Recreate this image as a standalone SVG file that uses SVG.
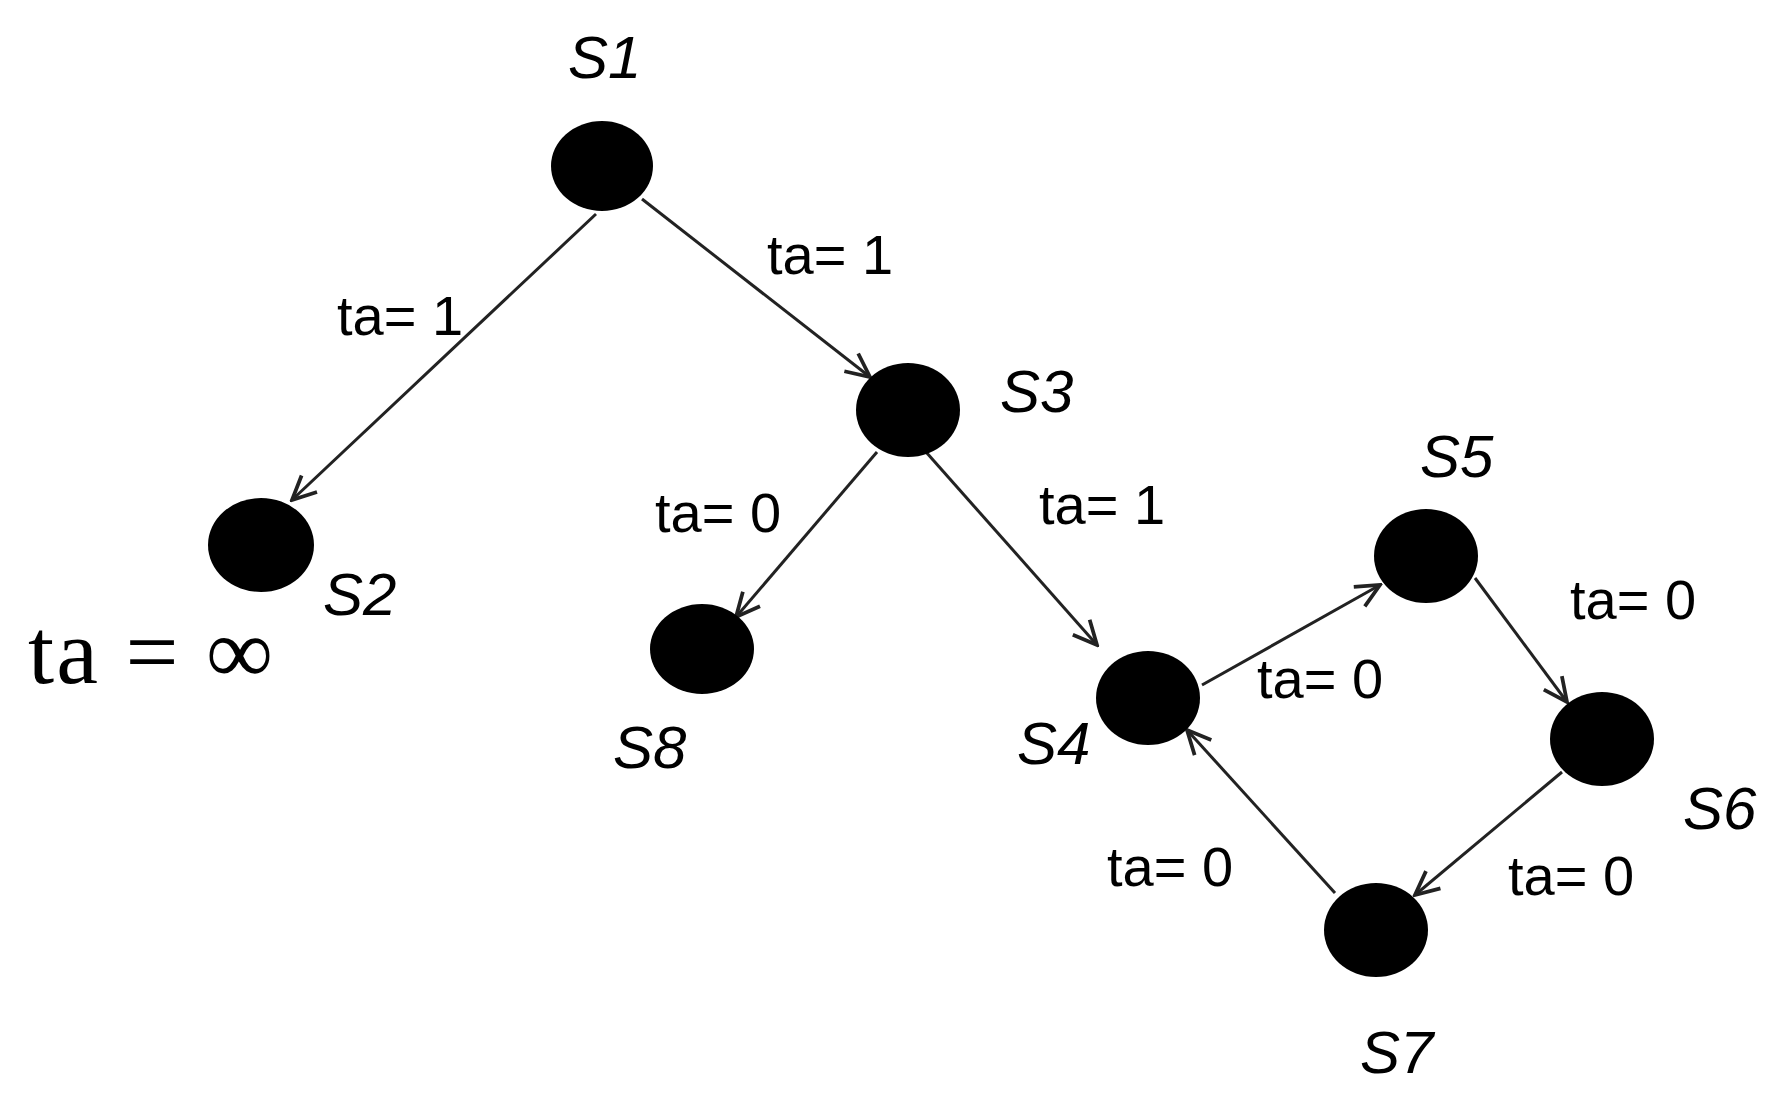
<svg xmlns="http://www.w3.org/2000/svg" width="1781" height="1109" viewBox="0 0 1781 1109">
<style>
.node{fill:#000}
.lbl{font-family:"Liberation Sans",Arial,sans-serif;font-style:italic;font-size:60px;fill:#000}
.ta{font-family:"Liberation Sans",Arial,sans-serif;font-size:56px;fill:#000}
.edge{stroke:#222;stroke-width:3;fill:none}
</style>
<defs>
<marker id="arr" markerUnits="userSpaceOnUse" markerWidth="30" markerHeight="30" viewBox="-22 -12 24 24" refX="0" refY="0" orient="auto">
<path d="M-19,-9 L0,0 L-19,9" fill="none" stroke="#222" stroke-width="3"/>
</marker>
</defs>
<rect width="1781" height="1109" fill="#fff"/>
<g id="connectors">
<line class="edge" x1="596" y1="214" x2="292" y2="500" marker-end="url(#arr)"/>
<line class="edge" x1="642" y1="199" x2="870" y2="377" marker-end="url(#arr)"/>
<line class="edge" x1="877" y1="452" x2="736" y2="617" marker-end="url(#arr)"/>
<line class="edge" x1="926" y1="452" x2="1097" y2="645" marker-end="url(#arr)"/>
<line class="edge" x1="1202" y1="685" x2="1380" y2="585" marker-end="url(#arr)"/>
<line class="edge" x1="1475" y1="578" x2="1567" y2="702" marker-end="url(#arr)"/>
<line class="edge" x1="1562" y1="772" x2="1415" y2="895" marker-end="url(#arr)"/>
<line class="edge" x1="1335" y1="893" x2="1187" y2="730" marker-end="url(#arr)"/>
<text class="ta" x="767" y="274">ta= 1</text>
<text class="ta" x="337" y="335">ta= 1</text>
<text class="ta" x="655" y="532">ta= 0</text>
<text class="ta" x="1039" y="524">ta= 1</text>
<text class="ta" x="1257" y="698">ta= 0</text>
<text class="ta" x="1570" y="619">ta= 0</text>
<text class="ta" x="1107" y="886">ta= 0</text>
<text class="ta" x="1508" y="895">ta= 0</text>
</g>
<g id="S1"><ellipse class="node" cx="602" cy="166" rx="51" ry="45"/><text class="lbl" x="568" y="78">S1</text></g>
<g id="S2"><ellipse class="node" cx="261" cy="545" rx="53" ry="47"/><text class="lbl" x="323" y="615">S2</text>
<text x="28" y="683" font-family="'Liberation Serif','DejaVu Serif',serif" font-size="94" textLength="245" lengthAdjust="spacing">ta = ∞</text></g>
<g id="S3"><ellipse class="node" cx="908" cy="410" rx="52" ry="47"/><text class="lbl" x="1000" y="412">S3</text></g>
<g id="S4"><ellipse class="node" cx="1148" cy="698" rx="52" ry="47"/><text class="lbl" x="1017" y="764">S4</text></g>
<g id="S5"><ellipse class="node" cx="1426" cy="556" rx="52" ry="47"/><text class="lbl" x="1420" y="477">S5</text></g>
<g id="S6"><ellipse class="node" cx="1602" cy="739" rx="52" ry="47"/><text class="lbl" x="1683" y="829">S6</text></g>
<g id="S7"><ellipse class="node" cx="1376" cy="930" rx="52" ry="47"/><text class="lbl" x="1360" y="1073">S7</text></g>
<g id="S8"><ellipse class="node" cx="702" cy="649" rx="52" ry="45"/><text class="lbl" x="613" y="768">S8</text></g>
</svg>
